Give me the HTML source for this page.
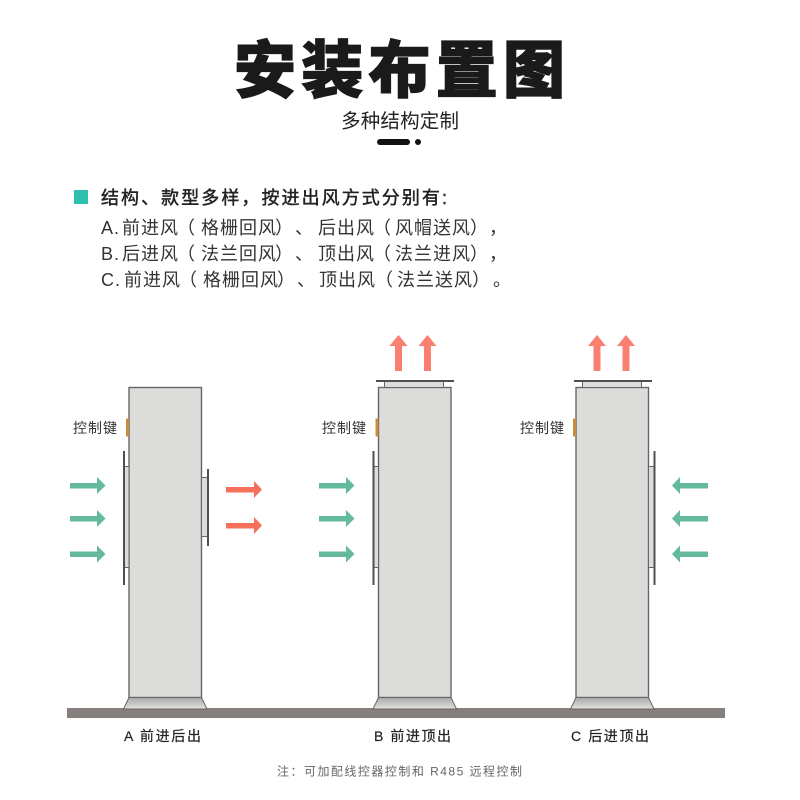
<!DOCTYPE html>
<html lang="zh">
<head>
<meta charset="utf-8">
<style>
html,body{margin:0;padding:0;background:#fff}
svg{display:block}
text{font-family:"Liberation Sans","Noto Sans CJK SC",sans-serif;text-spacing-trim:space-all;}
.l{letter-spacing:1px}
</style>
</head>
<body>
<svg width="800" height="800" viewBox="0 0 800 800" xmlns="http://www.w3.org/2000/svg">
<defs>
<linearGradient id="g" x1="0" y1="0" x2="0" y2="1"><stop offset="0" stop-color="#a8a8a6"/><stop offset="1" stop-color="#e2e2e0"/></linearGradient>
<g id="up"><rect x="-3.500" y="11" width="7" height="25" fill="#f98070"/><path d="M-9 11 0 0 9 11Z" fill="#f98070"/></g>
<g id="gr"><rect x="0" y="-2.500" width="28" height="5.500" fill="#66ba9c"/><path d="M27-8.500 35.500 0 27 8.500Z" fill="#66ba9c"/></g>
<g id="rd"><rect x="0" y="-2.500" width="28" height="5.500" fill="#f7705c"/><path d="M28-8.500 36 0 28 8.500Z" fill="#f7705c"/></g>
<g id="gl"><rect x="8" y="-2.500" width="28" height="5.500" fill="#66ba9c"/><path d="M8-8.500 0 0 8 8.500Z" fill="#66ba9c"/></g>
<g id="body">
<rect x="0" y="0" width="72.500" height="310" fill="#dcdcda" stroke="#666" stroke-width="1.400"/>
<path d="M0 310H72.500L78 321.500H-5.500Z" fill="url(#g)" stroke="#666" stroke-width="1"/>
<rect x="-3" y="31" width="3" height="18" fill="#c98b3f"/>
</g>
</defs>

<text x="234" y="92" font-size="62" font-weight="900" fill="#1a1a1a" stroke="#1a1a1a" stroke-width="1.300" letter-spacing="5.250">安装布置图</text>
<text x="341" y="127.500" font-size="19.500" fill="#222" textLength="118">多种结构定制</text>
<rect x="377" y="139" width="33" height="6" rx="3" fill="#111"/>
<circle cx="418" cy="142" r="3" fill="#111"/>

<rect x="74" y="190" width="14" height="14" fill="#2ebfae"/>
<text x="101" y="204" font-size="18" fill="#222" stroke="#222" stroke-width="0.450" textLength="346">结构、款型多样，按进出风方式分别有:</text>
<g font-size="18" fill="#333" class="l">
<text y="234"><tspan x="101">A.</tspan><tspan x="122">前进风</tspan><tspan x="177">（</tspan><tspan x="201">格栅回风</tspan><tspan x="275">）</tspan><tspan x="295">、</tspan><tspan x="318">后出风</tspan><tspan x="373">（</tspan><tspan x="395">风帽送风</tspan><tspan x="470">）</tspan><tspan x="489">，</tspan></text>
<text y="260"><tspan x="101">B.</tspan><tspan x="122">后进风</tspan><tspan x="177">（</tspan><tspan x="201">法兰回风</tspan><tspan x="275">）</tspan><tspan x="295">、</tspan><tspan x="318">顶出风</tspan><tspan x="373">（</tspan><tspan x="395">法兰进风</tspan><tspan x="470">）</tspan><tspan x="489">，</tspan></text>
<text y="286"><tspan x="101">C.</tspan><tspan x="124">前进风</tspan><tspan x="179">（</tspan><tspan x="203">格栅回风</tspan><tspan x="277">）</tspan><tspan x="297">、</tspan><tspan x="319">顶出风</tspan><tspan x="375">（</tspan><tspan x="397">法兰送风</tspan><tspan x="472">）</tspan><tspan x="493">。</tspan></text>
</g>

<rect x="67" y="708" width="658" height="10" fill="#857f7d"/>

<!-- Unit A -->
<use href="#body" x="129" y="387.500"/>
<rect x="123.500" y="466.500" width="5.500" height="101" fill="#dcdcda" stroke="#666" stroke-width="1"/>
<rect x="123" y="451" width="2" height="134" fill="#505050"/>
<rect x="201.500" y="477.500" width="6.500" height="59" fill="#dcdcda" stroke="#666" stroke-width="1"/>
<rect x="207" y="469" width="2" height="77" fill="#505050"/>
<use href="#gr" x="70" y="485.500"/><use href="#gr" x="70" y="518.500"/><use href="#gr" x="70" y="554"/>
<use href="#rd" x="226" y="489.500"/><use href="#rd" x="226" y="525.500"/>

<!-- Unit B -->
<use href="#body" x="378.500" y="387.500"/>
<rect x="384.500" y="381" width="59" height="6.500" fill="#dcdcda" stroke="#666" stroke-width="1"/>
<rect x="376" y="380" width="78" height="2" fill="#505050"/>
<rect x="373" y="466.500" width="5.500" height="101" fill="#dcdcda" stroke="#666" stroke-width="1"/>
<rect x="372.500" y="451" width="2" height="134" fill="#505050"/>
<use href="#gr" x="319" y="485.500"/><use href="#gr" x="319" y="518.500"/><use href="#gr" x="319" y="554"/>
<use href="#up" x="398.500" y="335"/><use href="#up" x="427.500" y="335"/>

<!-- Unit C -->
<use href="#body" x="576" y="387.500"/>
<rect x="582.500" y="381" width="59" height="6.500" fill="#dcdcda" stroke="#666" stroke-width="1"/>
<rect x="574" y="380" width="78" height="2" fill="#505050"/>
<rect x="648.500" y="466.500" width="5.500" height="101" fill="#dcdcda" stroke="#666" stroke-width="1"/>
<rect x="653.500" y="451" width="2" height="134" fill="#505050"/>
<use href="#gl" x="672" y="485.500"/><use href="#gl" x="672" y="518.500"/><use href="#gl" x="672" y="554"/>
<use href="#up" x="597" y="335"/><use href="#up" x="626" y="335"/>

<g font-size="14" fill="#333">
<text x="73" y="433" textLength="44">控制键</text>
<text x="322" y="433" textLength="44">控制键</text>
<text x="520" y="433" textLength="44">控制键</text>
</g>
<g font-size="14" fill="#222" stroke="#222" stroke-width="0.200">
<text x="124" y="741" textLength="77">A 前进后出</text>
<text x="374" y="741" textLength="77">B 前进顶出</text>
<text x="571" y="741" textLength="78">C 后进顶出</text>
</g>
<text x="277" y="775.500" font-size="12" fill="#666" textLength="245">注：可加配线控器控制和 R485 远程控制</text>
</svg>
</body>
</html>
